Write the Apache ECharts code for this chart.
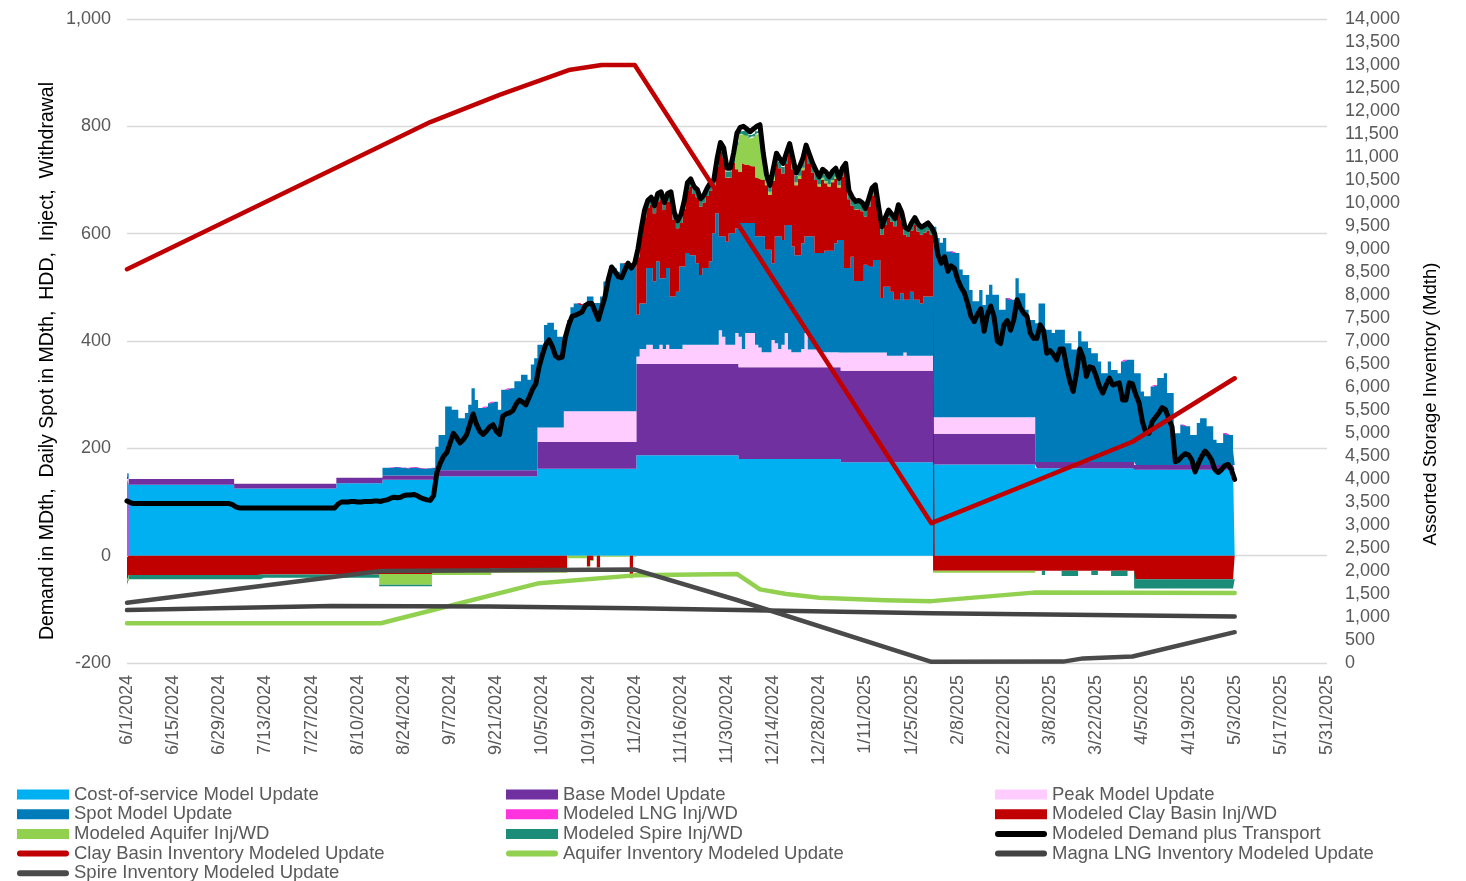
<!DOCTYPE html>
<html>
<head>
<meta charset="utf-8">
<script src="https://cdn.jsdelivr.net/npm/echarts@6.0.0/dist/echarts.min.js"></script>
<style>
  html, body { margin: 0; padding: 0; background: #fff; }
  #chart { width: 1466px; height: 881px; }
</style>
</head>
<body>
<div id="chart"></div>
<script>
// daily categories, 6/1/2024 .. 5/31/2025
const dates = [];
for (let i = 0; i < 365; i++) {
  const d = new Date(2024, 5, 1 + i);
  dates.push((d.getMonth() + 1) + '/' + d.getDate() + '/' + d.getFullYear());
}

// step-like series as [value, number of days] runs, starting 6/1/2024
const costRuns = [[143, 1], [132, 32], [125, 31], [135, 14], [141.5, 16], [148, 31], [162, 30],
  [187, 31], [180, 31], [174, 28], [170, 31], [163, 30], [160, 31]];
const baseRuns = [[10, 1], [11, 32], [9, 31], [10, 14], [8, 16], [11, 31], [50, 30],
  [170, 31], [171, 31], [170.5, 28], [57, 31], [11.5, 30], [9, 31]];
const peakRuns = [[0, 125], [27, 8], [57, 22],
  [14, 1], [28, 2], [36, 2], [28, 2], [36, 1], [28, 1], [36, 1], [28, 4], [36, 11], [63, 1], [51, 1], [36, 3],
  [58, 1], [57, 1], [34, 1], [64, 3], [42, 1], [37, 1], [28, 3], [51, 1], [45, 1], [34, 1], [42, 1], [64, 1],
  [33, 1], [28, 3], [34, 1], [64, 1], [33, 3], [28, 7],
  [34, 14], [28, 5], [34, 1], [28, 8],
  [31, 31], [0, 61]];
const lngRuns = [[-3, 1], [0, 336]];
// injections (negative); null = winter withdrawal, taken from clayTop below
const clayRuns = [[-44, 1], [-36, 40], [-35, 36], [-34, 16], [-28, 18], [-24, 23], [0, 6], [-20, 1], [-8, 1],
  [0, 1], [-22, 1], [0, 9], [-40, 1], [0, 1],
  [null, 90],
  [-28, 61], [-44, 31]];
const aquiferRuns = [[0, 77], [-20, 16], [-8, 41], [-5, 6], [-2, 15],
  [0, 30], [45, 1], [70, 1], [55, 2], [50, 1], [56, 1], [80, 1], [85, 1], [38, 1], [8, 1], [6, 1], [8, 1],
  [0, 6], [6, 2], [5, 1], [0, 4], [4, 7], [0, 28],
  [-4, 31], [0, 61]];
const spireRuns = [[-7, 1], [-8, 40], [-6, 36], [-3, 16], [0, 62],
  [12, 30], [6, 10], [12, 50],
  [0, 33], [-8, 1], [0, 5], [-10, 5], [0, 4], [-8, 2], [0, 4], [-10, 5], [0, 2], [-17, 31]];

// top of the spot layer, from 8/17/2024 (day 78)
const SPOT_FROM = 78;
const spotTop = [
  164, 164, 164, 165, 165, 164, 164, 163, 164, 165,
  164, 163, 162, 163, 163, 164,
  203, 225, 225, 278, 278, 272, 272, 256, 256, 266,
  281, 312, 290, 275, 275, 278, 284, 287, 287, 272,
  309, 309, 312, 312, 325, 325, 337, 337, 328, 356,
  368, 393, 393, 430, 434, 434, 421, 408, 408, 408,
  439, 463, 470, 470, 467, 471, 483, 483, 471, 471,
  483, 511, 511, 536, 536, 529, 545, 545, 542, 545, 545,
  449, 470, 470, 536, 536, 511, 548, 517, 517, 536,
  483, 483, 492, 539, 539, 564, 560, 560, 545, 523,
  536, 536, 548, 601, 638, 595, 595, 585, 601, 601,
  610, 620, 620, 620, 620, 620, 595, 595, 595, 570,
  570, 545, 595, 595, 588, 616, 616, 576, 560, 560,
  582, 595, 595, 595, 564, 564, 564, 568, 568, 568,
  582, 588, 588, 536, 536, 557, 512, 512, 512, 542,
  542, 539, 551, 551, 480, 501, 501, 492, 477, 477,
  489, 477, 477, 492, 477, 477, 470, 483, 483, 483,
  613, 592, 583, 592, 567, 567, 564, 564, 533, 523,
  523, 495, 474, 474, 495, 467, 486, 505, 486, 486,
  458, 458, 480, 477, 477, 517, 489, 489, 458, 439,
  439, 433, 470, 470, 421, 421, 415, 421, 421, 421,
  396, 396, 384, 384, 418, 399, 399, 387, 377, 377,
  362, 340, 340, 362, 346, 346, 340, 362, 365, 365,
  365, 340, 340, 306, 297, 297, 315, 318, 331, 331,
  340, 303, 303, 228, 228, 244, 241, 241, 225, 225,
  247, 256, 256, 241, 241, 216, 210, 210, 228, 225,
  225, 197
];

// top of the Clay Basin withdrawal layer, 11/3/2024 .. 1/31/2025
const WD_FROM = 155;
const clayTop = [
  556, 596, 630, 648, 654, 638, 660, 664, 644, 660,
  664, 626, 610, 620, 646, 680, 688, 674, 668, 650,
  658, 670, 680, 686, 724, 752, 742, 704, 705, 732,
  720, 715, 731, 728, 728, 725, 705, 703, 700, 690,
  672, 698, 730, 722, 712, 730, 748, 720, 690, 702,
  718, 748, 730, 714, 700, 688, 700, 694, 688, 696,
  702, 686, 706, 716, 664, 652, 645, 646, 642, 632,
  650, 670, 676, 636, 598, 616, 630, 622, 614, 640,
  626, 598, 594, 606, 616, 604, 598, 602, 606, 598
];

const demand = [
  102, 99, 97, 97, 97, 97, 97, 97, 97, 97,
  97, 97, 97, 97, 97, 97, 97, 97, 97, 97,
  97, 97, 97, 97, 97, 97, 97, 97, 97, 97,
  97, 97, 95, 91, 89, 89, 89, 89, 89, 89,
  89, 89, 89, 89, 89, 89, 89, 89, 89, 89,
  89, 89, 89, 89, 89, 89, 89, 89, 89, 89,
  89, 89, 89, 89, 96, 100, 100, 100, 101, 101,
  100, 100, 101, 101, 101, 102, 102, 101, 103, 104,
  107, 109, 108, 109, 112, 113, 113, 114, 112, 108,
  106, 104, 103, 112, 155, 172, 185, 192, 210, 228,
  220, 210, 216, 225, 245, 264, 245, 232, 226, 232,
  240, 244, 232, 226, 260, 264, 266, 270, 282, 290,
  286, 281, 295, 310, 320, 352, 374, 393, 402, 390,
  372, 368, 370, 408, 430, 446, 448, 451, 454, 466,
  470, 470, 455, 440, 462, 482, 515, 538, 530, 520,
  518, 532, 545, 536, 545, 572, 610, 644, 662, 668,
  652, 675, 678, 658, 675, 678, 640, 624, 635, 660,
  695, 702, 688, 682, 665, 672, 685, 695, 700, 740,
  770, 760, 722, 722, 750, 787, 798, 800, 795, 790,
  795, 800, 803, 750, 710, 690, 720, 750, 740, 731,
  750, 768, 740, 713, 725, 740, 765, 748, 731, 718,
  706, 720, 715, 706, 716, 722, 703, 722, 731, 680,
  668, 660, 662, 658, 647, 665, 685, 691, 650, 613,
  630, 644, 636, 628, 654, 640, 612, 608, 620, 630,
  618, 612, 616, 620, 612, 600, 560, 545, 557, 530,
  540, 535, 514, 500, 490, 470, 446, 436, 450, 460,
  418, 450, 465, 445, 400, 395, 430, 438, 420, 440,
  477, 462, 452, 446, 415, 405, 405, 430, 420, 377,
  382, 375, 365, 385, 385, 352, 325, 306, 340, 385,
  370, 334, 352, 350, 334, 315, 303, 318, 331, 318,
  320, 322, 290, 290, 322, 320, 300, 285, 250, 230,
  228, 250, 258, 266, 276, 272, 255, 240, 175, 178,
  185, 190, 188, 178, 156, 172, 185, 195, 188, 178,
  160, 155, 160, 168, 170, 160, 142
];

// storage inventories (Mdth), [day index, value] at the turning points
const clayInv = [[0, 8560], [92, 11760], [113, 12350], [134, 12890], [144, 13000], [154, 13000],
  [244, 3040], [305, 4810], [336, 6190]];
const aquiferInv = [[0, 865], [77, 865], [125, 1735], [154, 1905], [185, 1935], [192, 1600], [200, 1500],
  [210, 1420], [230, 1365], [244, 1345], [275, 1530], [336, 1520]];
const magnaInv = [[0, 1150], [62, 1240], [110, 1230], [154, 1190], [244, 1080], [336, 1010]];
const spireInv = [[0, 1310], [77, 2000], [154, 2030], [185, 1370], [244, 25], [284, 30], [290, 100],
  [305, 140], [336, 670]];

function expand(runs) {
  const out = [];
  runs.forEach(([v, n]) => { for (let i = 0; i < n; i++) out.push(v); });
  return out;
}

const cost = expand(costRuns);
const base = expand(baseRuns);
const peak = expand(peakRuns);
const lng = expand(lngRuns);
const aquifer = expand(aquiferRuns);
const spire = expand(spireRuns);
// spot and clay withdrawal were read as layer tops, turn them into layer heights
const under = cost.map((v, i) => v + base[i] + peak[i]);
const spot = under.map((u, i) => i < SPOT_FROM ? 0 : spotTop[i - SPOT_FROM] - u);
const clay = expand(clayRuns).map((v, i) => v !== null ? v : clayTop[i - WD_FROM] - spotTop[i - SPOT_FROM]);

const FONT = '"Liberation Sans", Arial, sans-serif';
const GREY = '#595959';

function layer(name, color, data) {
  return {
    name, type: 'line', stack: 'supply', step: 'middle', data, color,
    symbol: 'none', lineStyle: { width: 0 }, areaStyle: { color, opacity: 1 },
    emphasis: { disabled: true }, z: 2
  };
}
function curve(name, color, data, axis, width) {
  return {
    name, type: 'line', data, color, yAxisIndex: axis, symbol: 'none',
    lineStyle: { color, width, cap: 'round', join: 'round' },
    emphasis: { disabled: true }, z: 3
  };
}

const LINE_ICON = 'path://M3,0L49,0A3,3,0,0,1,49,6L3,6A3,3,0,0,1,3,0Z';
function legendCol(left, items) {
  return {
    orient: 'vertical', left, top: 785, height: 160, padding: 0, itemGap: 0.7,
    itemWidth: 52, itemHeight: 10, selectedMode: false,
    textStyle: { color: GREY, fontSize: 18.5, fontFamily: FONT },
    data: items.map(([name, line]) => ({ name, icon: line ? LINE_ICON : 'rect' }))
  };
}

const chart = echarts.init(document.getElementById('chart'));
chart.setOption({
  animation: false,
  backgroundColor: '#fff',
  grid: { left: 127, right: 139, top: 19, bottom: 218 },
  xAxis: {
    type: 'category', data: dates, boundaryGap: false,
    axisLine: { show: false }, axisTick: { show: false },
    axisLabel: { interval: 13, rotate: 90, margin: 12, color: GREY, fontSize: 18, fontFamily: FONT }
  },
  yAxis: [{
    type: 'value', min: -200, max: 1000, interval: 200,
    axisLine: { show: false }, axisTick: { show: false },
    axisLabel: { margin: 16, color: GREY, fontSize: 18, fontFamily: FONT,
      formatter: v => v.toLocaleString('en-US') },
    splitLine: { lineStyle: { color: '#D9D9D9', width: 1.3 } }
  }, {
    type: 'value', min: 0, max: 14000, interval: 500, position: 'right',
    axisLine: { show: false }, axisTick: { show: false },
    axisLabel: { margin: 18, color: GREY, fontSize: 18, fontFamily: FONT,
      formatter: v => v.toLocaleString('en-US') },
    splitLine: { show: false }
  }],
  legend: [
    legendCol(17, [['Cost-of-service Model Update'], ['Spot Model Update'], ['Modeled Aquifer Inj/WD'],
      ['Clay Basin Inventory Modeled Update', 1], ['Spire Inventory Modeled Update', 1]]),
    legendCol(506, [['Base Model Update'], ['Modeled LNG Inj/WD'], ['Modeled Spire Inj/WD'],
      ['Aquifer Inventory Modeled Update', 1]]),
    legendCol(995, [['Peak Model Update'], ['Modeled Clay Basin Inj/WD'],
      ['Modeled Demand plus Transport', 1], ['Magna LNG Inventory Modeled Update', 1]])
  ],
  graphic: [{
    type: 'text', x: 48, y: 361, rotation: Math.PI / 2,
    style: { text: 'Demand in MDth,  Daily Spot in MDth,  HDD,  Inject,  Withdrawal',
      fontSize: 19.5, fontFamily: FONT, fill: '#000', align: 'center', verticalAlign: 'middle',
      textAlign: 'center', textVerticalAlign: 'middle' }
  }, {
    type: 'text', x: 1431, y: 404, rotation: Math.PI / 2,
    style: { text: 'Assorted Storage Inventory (Mdth)',
      fontSize: 18.5, fontFamily: FONT, fill: '#000', align: 'center', verticalAlign: 'middle',
      textAlign: 'center', textVerticalAlign: 'middle' }
  }],
  series: [
    layer('Cost-of-service Model Update', '#00B0F0', cost),
    layer('Base Model Update', '#7030A0', base),
    layer('Peak Model Update', '#FFCCFF', peak),
    layer('Spot Model Update', '#007BBA', spot),
    layer('Modeled LNG Inj/WD', '#FF33DD', lng),
    layer('Modeled Clay Basin Inj/WD', '#C00000', clay),
    layer('Modeled Aquifer Inj/WD', '#92D050', aquifer),
    layer('Modeled Spire Inj/WD', '#1A8C78', spire),
    curve('Modeled Demand plus Transport', '#000000', demand, 0, 5),
    curve('Clay Basin Inventory Modeled Update', '#C00000', clayInv, 1, 4.5),
    curve('Aquifer Inventory Modeled Update', '#92D050', aquiferInv, 1, 4.5),
    curve('Magna LNG Inventory Modeled Update', '#434343', magnaInv, 1, 4.5),
    curve('Spire Inventory Modeled Update', '#4A4A4A', spireInv, 1, 4.5)
  ]
});
</script>
</body>
</html>
